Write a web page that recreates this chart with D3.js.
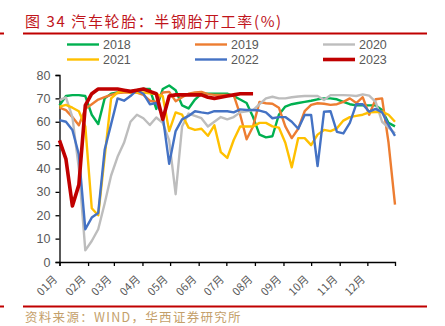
<!DOCTYPE html>
<html>
<head>
<meta charset="utf-8">
<script src="https://cdn.jsdelivr.net/npm/d3@7/dist/d3.min.js"></script>
<style>
  html, body { margin: 0; padding: 0; background: #fff; }
  svg { display: block; }
</style>
</head>
<body>
<svg id="chart" width="445" height="326"></svg>
<script>
// Weekly semi-steel tyre operating rate (%), one series per year, first week of January onward
const years = ["2018", "2019", "2020", "2021", "2022", "2023"];
const colors = ["#00B050", "#ED7D31", "#BDBDBD", "#FFC000", "#4472C4", "#C00000"];

const s2018 = [67, 71, 71.4, 71.4, 71, 63, 59, 70, 72, 72.5, 73, 73, 73.5, 74, 74, 65.5, 74, 75.5, 73.5, 67,
  65.7, 69.5, 72, 72, 72, 72, 72, 71, 69.5, 68, 62, 54.5, 53.3, 53.8, 63, 66.5, 67.5, 68, 68.5, 69,
  69.6, 70, 70, 69.6, 68.5, 67.5, 67, 67, 67, 67, 65, 59.5, 58];
const s2019 = [66, 65, 62, 58.5, 65.5, 67.5, 69.5, 70.5, 71.5, 72.3, 72.5, 72.5, 72.5, 71.5, 69, 68.5, 72.5, 72.8, 68.8, 70.5,
  72, 72.5, 72.8, 71.8, 71.5, 71.5, 71.5, 71.4, 63, 52.5, 58, 68.5, 67.9, 67.7, 66, 58, 53, 57, 64.5, 67.2,
  67.9, 67.7, 67.2, 67.5, 68.5, 70, 68, 70.5, 63, 69.6, 70, 51, 24.5];
const s2020 = [69.3, 70.4, 62, 40, 5, 9, 14, 25, 37, 45, 51, 60, 63, 61.5, 58.6, 61.8, 59.5, 52, 29, 58,
  63.5, 62.5, 61.5, 58, 60, 62, 61, 62, 64, 64.5, 65, 67.5, 70, 70.7, 70, 70, 70.5, 70.8, 71, 71,
  71, 69.3, 71.4, 71.4, 71.4, 71.3, 71, 71.7, 71.2, 68.5, 60, 57.5, 55];
const s2021 = [66.5, 67.2, 66, 64.5, 58, 23, 20, 45, 70, 72.5, 73, 72.5, 72.5, 72.5, 72.2, 71.8, 71, 56, 64, 63,
  57.5, 56.5, 57, 54, 58.5, 47, 44.5, 52.2, 58, 58, 58, 59.5, 59.5, 58, 57.5, 51, 40.5, 53, 53, 50,
  54.5, 56.5, 56, 57.2, 60.5, 62, 62.5, 63, 64, 64.2, 64.3, 63, 60];
const s2022 = [60.7, 60, 56.5, 46, 14, 19, 21, 48, 59, 70, 69, 71, 73.5, 72, 67.5, 68, 62.5, 42, 56, 61,
  62.5, 64.5, 64, 63.6, 64.5, 64.5, 64.5, 64, 65.3, 65, 65, 64.8, 64, 61.5, 62, 62, 60, 57, 62.9, 62.9,
  41, 64.3, 64.5, 55.7, 55, 59.5, 67.5, 67.5, 64.3, 65.5, 64, 58.6, 54];
const s2023 = [52, 44, 24, 33, 67, 72, 74, 74, 74, 74, 73.5, 73, 73.5, 74, 73, 72, 61, 71, 71.5, 71.5,
  71.5, 71.5, 71.5, 70.5, 70, 70.5, 71, 71.5, 72, 72, 72];
const seriesValues = [s2018, s2019, s2020, s2021, s2022, s2023];

const yTicks = [0, 10, 20, 30, 40, 50, 60, 70, 80];
const monthLabels = ["01月", "02月", "03月", "04月", "05月", "06月", "07月", "08月", "09月", "10月", "11月", "12月"];

const svg = d3.select("#chart");
const cjk = "'Noto Sans CJK SC', 'Noto Sans', sans-serif";
const latin = "Arial, 'Liberation Sans', 'DejaVu Sans', sans-serif";
const red = "#C00000";
const labelGrey = "#595959";

// Title and rules
svg.append("text")
  .attr("x", 25).attr("y", 27)
  .attr("font-family", cjk).attr("font-size", 15).attr("letter-spacing", 1.6)
  .attr("fill", "#C0141B")
  .text("图 34 汽车轮胎：半钢胎开工率(%)");

[33.5, 306.5].forEach(y => {
  svg.append("line").attr("x1", 23).attr("x2", 427).attr("y1", y).attr("y2", y)
    .attr("stroke", red).attr("stroke-width", 2);
  svg.append("line").attr("x1", 0).attr("x2", 4).attr("y1", y).attr("y2", y)
    .attr("stroke", red).attr("stroke-width", 2);
});

svg.append("text")
  .attr("x", 25).attr("y", 322)
  .attr("font-family", cjk).attr("font-size", 12.5).attr("letter-spacing", 1.3)
  .attr("fill", "#C4A06A")
  .text("资料来源：WIND，华西证券研究所");

// Scales
const start = new Date(2023, 0, 1);
const end = new Date(2023, 11, 31);
const x = d3.scaleTime().domain([start, end]).range([59.5, 395]);
const y = d3.scaleLinear().domain([0, 80]).range([262, 75]);

const weekDate = i => d3.timeDay.offset(start, 7 * i);

// Axes
const yAxis = svg.append("g")
  .attr("transform", "translate(59.5,0)")
  .call(d3.axisLeft(y).tickValues(yTicks).tickSize(4).tickPadding(5));
yAxis.select(".domain").attr("stroke", "#000").attr("stroke-width", 1.3);
yAxis.selectAll(".tick line").attr("stroke", "#000").attr("stroke-width", 1.3);
yAxis.selectAll(".tick text")
  .attr("font-family", latin).attr("font-size", 12.5).attr("fill", labelGrey);

const months = d3.timeMonth.range(start, end);
const xAxis = svg.append("g")
  .attr("transform", "translate(0,262)")
  .call(d3.axisBottom(x).tickValues(months).tickSize(4).tickFormat((d, i) => monthLabels[i]));
xAxis.select(".domain").attr("stroke", "#000").attr("stroke-width", 1.3);
xAxis.selectAll(".tick line").attr("stroke", "#000").attr("stroke-width", 1.3);
xAxis.selectAll(".tick text")
  .attr("font-family", cjk).attr("font-size", 11).attr("fill", labelGrey)
  .attr("text-anchor", "end")
  .attr("dy", 0).attr("y", 0)
  .attr("transform", "translate(-2,18) rotate(-45)");

// Series lines
const line = d3.line()
  .x((d, i) => x(weekDate(i)))
  .y(d => y(d));

seriesValues.forEach((vals, k) => {
  svg.append("path")
    .datum(vals)
    .attr("fill", "none")
    .attr("stroke", colors[k])
    .attr("stroke-width", k === 5 ? 3.6 : 2.4)
    .attr("stroke-linejoin", "round")
    .attr("d", line);
});

// Legend: three columns, two rows
const legendCols = [67, 195, 323];
const legendRows = [44.5, 59.5];
years.forEach((yr, k) => {
  const lx = legendCols[k % 3];
  const ly = legendRows[Math.floor(k / 3)];
  svg.append("line")
    .attr("x1", lx).attr("x2", lx + 32).attr("y1", ly).attr("y2", ly)
    .attr("stroke", colors[k]).attr("stroke-width", k === 5 ? 3.6 : 2.4);
  svg.append("text")
    .attr("x", lx + 36).attr("y", ly + 4.5)
    .attr("font-family", latin).attr("font-size", 12.5).attr("fill", labelGrey)
    .text(yr);
});
</script>
</body>
</html>
